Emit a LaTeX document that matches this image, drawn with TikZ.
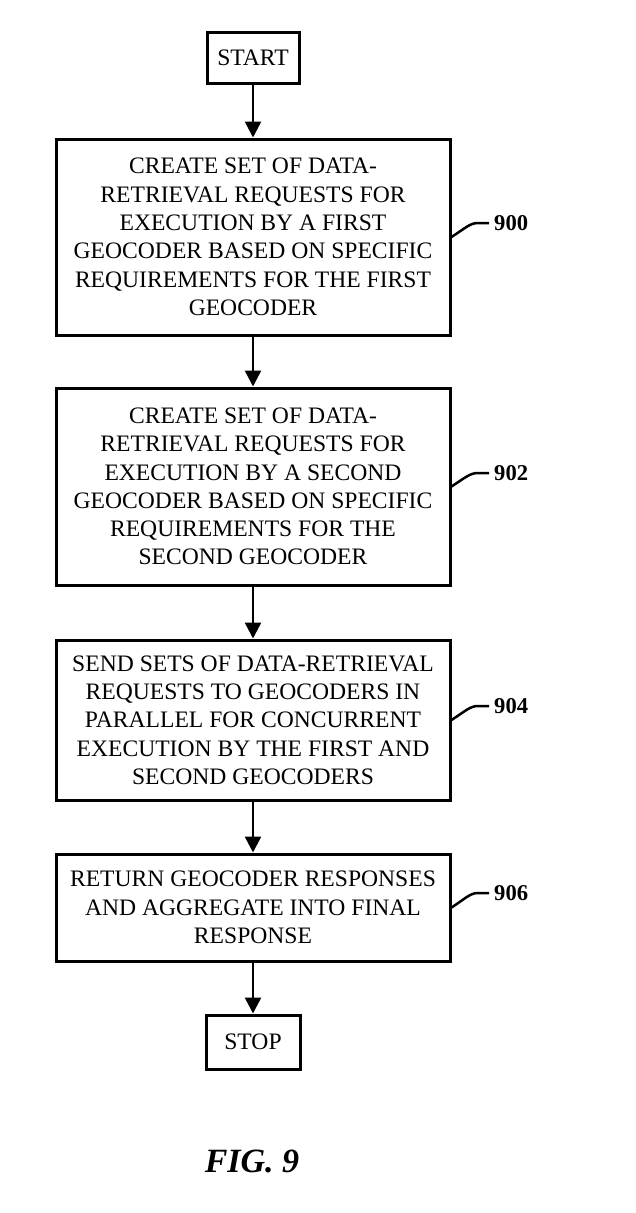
\documentclass[tikz,border=0pt]{standalone}
\usepackage{fontspec}
\setmainfont{Liberation Serif}
\usetikzlibrary{arrows.meta}
\begin{document}
\begin{tikzpicture}[x=1pt,y=-1pt,
  stepbox/.style={draw,line width=3pt,rectangle,inner sep=0pt,align=center,
    font=\fontsize{23.6}{28.3}\selectfont},
  flow/.style={line width=2.5pt,-{Triangle[length=16pt,width=16pt]}},
  lead/.style={line width=2.5pt},
  reflabel/.style={anchor=west,inner xsep=5pt,inner ysep=0pt,font=\fontsize{22.6}{26}\selectfont\bfseries}]
\useasboundingbox (0,0) rectangle (635,1213);
\node[stepbox,minimum width=92pt,minimum height=51pt] (start) at (253,57.5) {START};
\node[stepbox,minimum width=394pt,minimum height=196pt] (b900) at (253,237)
  {CREATE SET OF DATA-\\RETRIEVAL REQUESTS FOR\\EXECUTION BY A FIRST\\GEOCODER BASED ON SPECIFIC\\REQUIREMENTS FOR THE FIRST\\GEOCODER};
\node[stepbox,minimum width=394pt,minimum height=197pt] (b902) at (253,486.5)
  {CREATE SET OF DATA-\\RETRIEVAL REQUESTS FOR\\EXECUTION BY A SECOND\\GEOCODER BASED ON SPECIFIC\\REQUIREMENTS FOR THE\\SECOND GEOCODER};
\node[stepbox,minimum width=394pt,minimum height=160pt] (b904) at (253,720)
  {SEND SETS OF DATA-RETRIEVAL\\REQUESTS TO GEOCODERS IN\\PARALLEL FOR CONCURRENT\\EXECUTION BY THE FIRST AND\\SECOND GEOCODERS};
\node[stepbox,minimum width=394pt,minimum height=107pt] (b906) at (253,907.5)
  {RETURN GEOCODER RESPONSES\\AND AGGREGATE INTO FINAL\\RESPONSE};
\node[stepbox,minimum width=94pt,minimum height=54pt] (stop) at (253,1042) {STOP};

\draw[flow] (start) -- (b900);
\draw[flow] (b900) -- (b902);
\draw[flow] (b902) -- (b904);
\draw[flow] (b904) -- (b906);
\draw[flow] (b906) -- (stop);

\node[reflabel] (l900) at (489,223) {900};
\node[reflabel] (l902) at (489,473) {902};
\node[reflabel] (l904) at (489,706) {904};
\node[reflabel] (l906) at (489,893) {906};
\foreach \b/\l in {b900/l900,b902/l902,b904/l904,b906/l906}{
  \draw[lead] (\b.east) .. controls ++(14,-9) and ++(-8,0) .. ([xshift=-11pt]\l.west) -- (\l.west);
}

\node[font=\fontsize{34}{36}\selectfont\bfseries\itshape] (fig) at (252,1161) {FIG. 9};
\end{tikzpicture}
\end{document}
